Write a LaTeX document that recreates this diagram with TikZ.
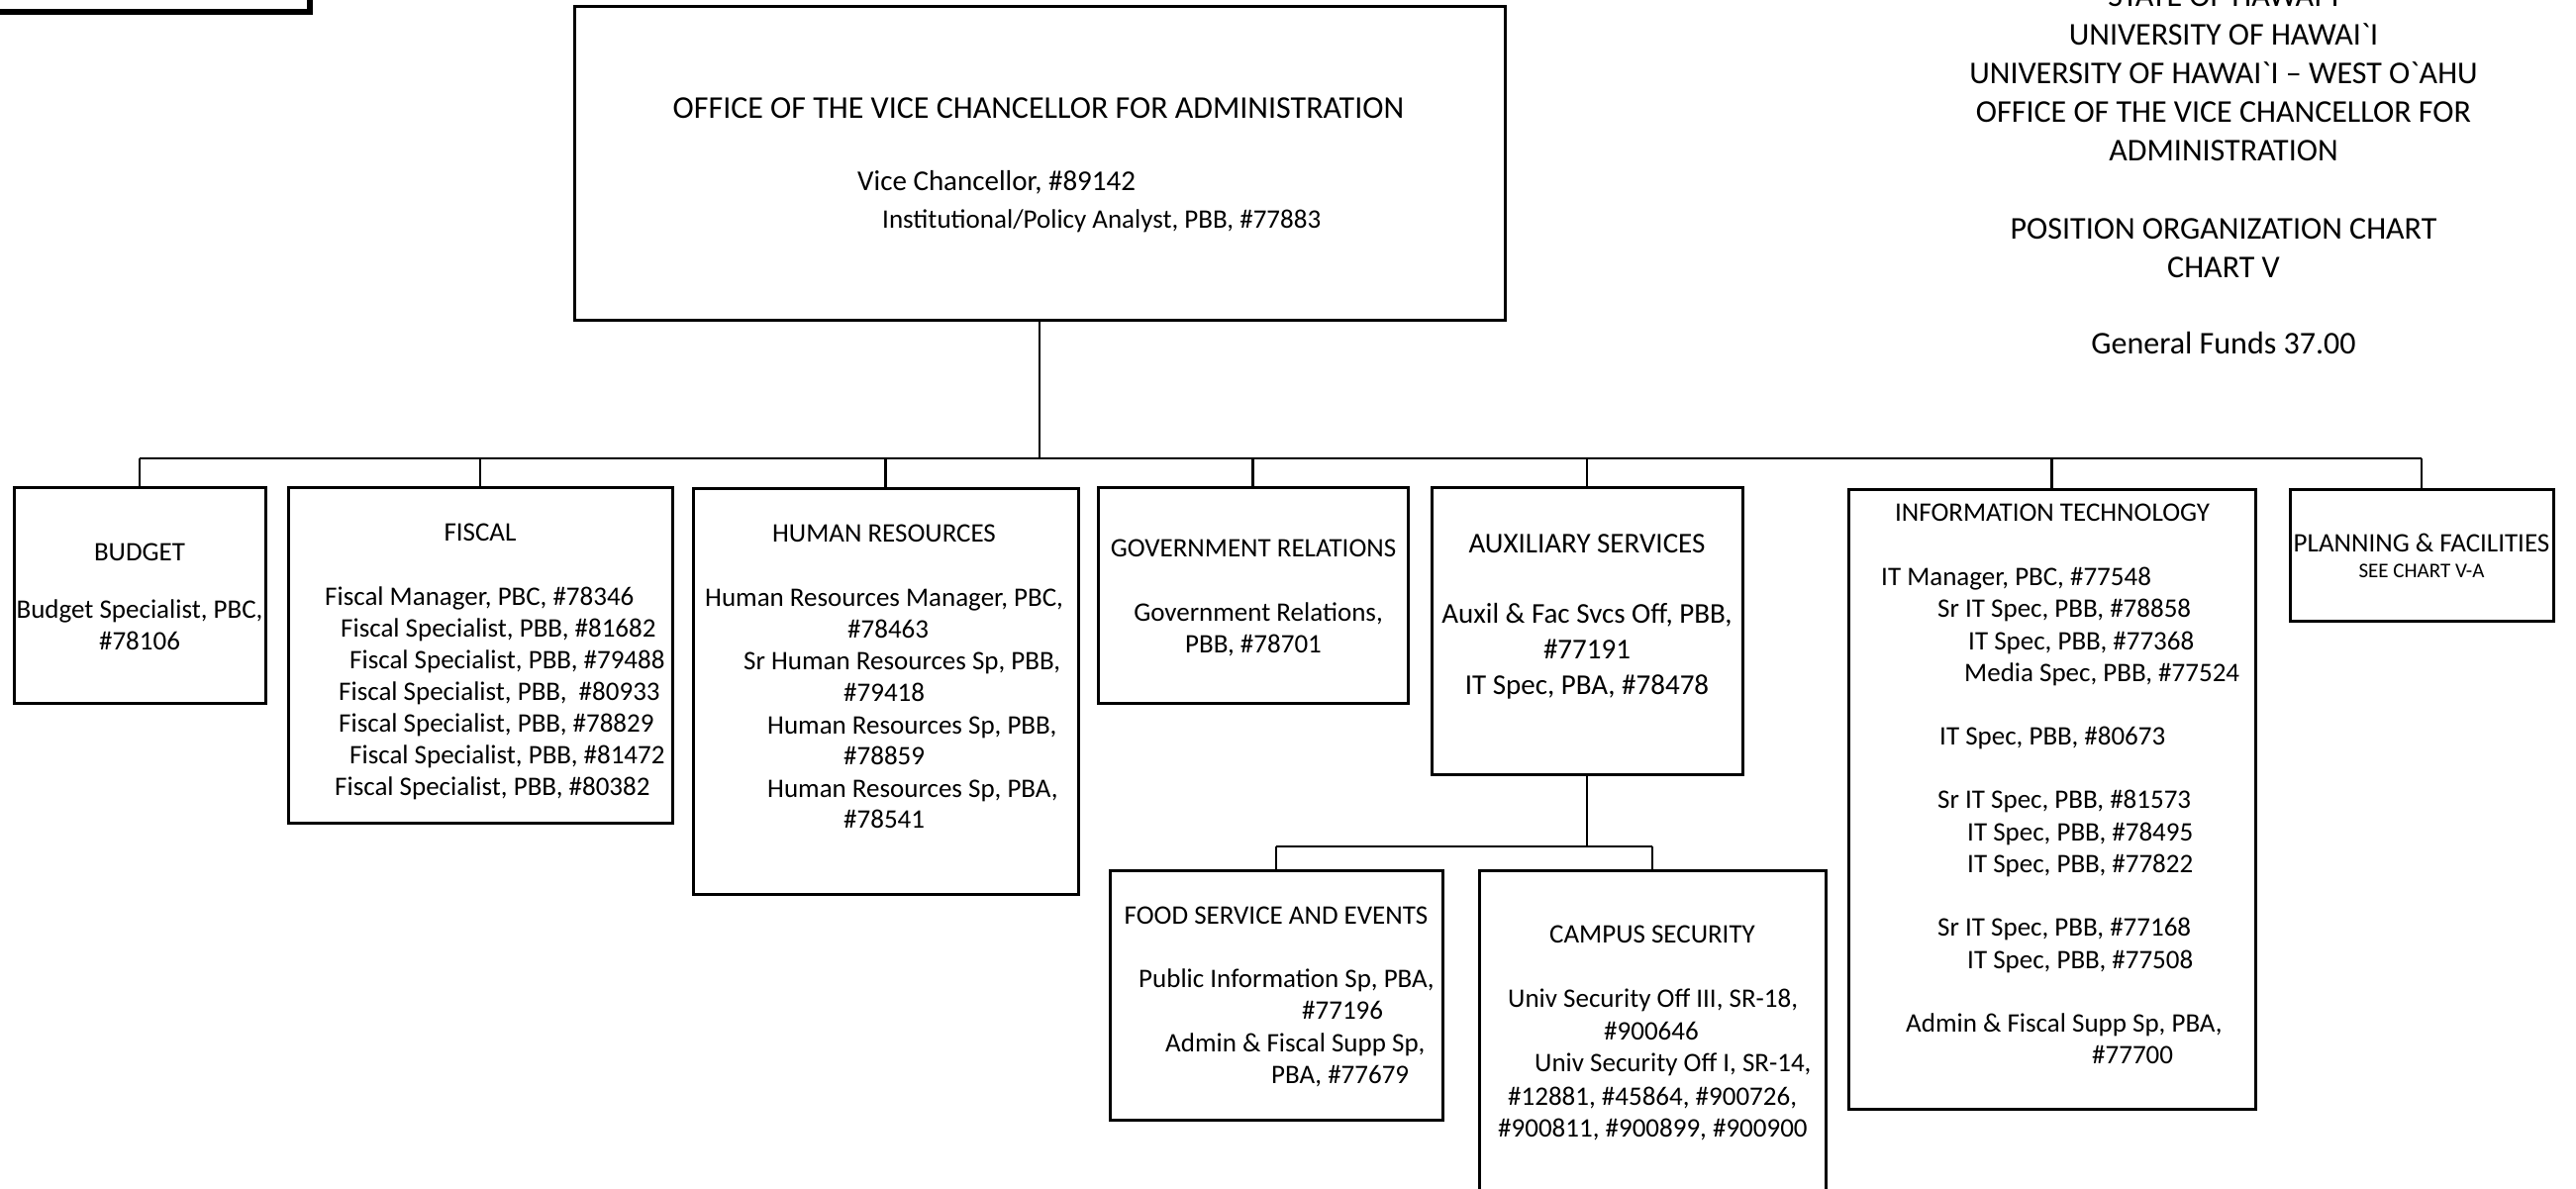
\documentclass[tikz,border=0pt]{standalone}
\usepackage{fontspec}
\newfontfamily\calfont{Carlito}
\newcommand\tline[5][base west]{\node[txt,anchor=#1] (#2) at (#3,#4) {#5};}
\begin{document}
\begin{tikzpicture}[x=1pt,y=-1pt,
  box/.style={draw, line width=3pt, inner sep=0pt},
  conn/.style={line width=2.6pt},
  txt/.style={inner sep=0pt, font=\calfont\fontsize{27}{32.3}\selectfont},
  big/.style={font=\calfont\fontsize{32}{39}\selectfont},
  mid/.style={font=\calfont\fontsize{29}{36}\selectfont},
  small/.style={font=\calfont\fontsize{21}{25}\selectfont}]
\useasboundingbox (0,0) rectangle (2602,1201);
\clip (0,0) rectangle (2602,1201);
\fill[white] (0,0) rectangle (2602,1201);

% partial box top left
\node[box, line width=6pt, minimum width=325pt, minimum height=105pt] (tl) at (150,-40) {};

% boxes
\node[box, minimum width=940pt, minimum height=316pt] (main) at (1050,165) {};
\node[box, minimum width=254pt, minimum height=218pt] (budget) at (141,601) {};
\node[box, minimum width=388pt, minimum height=339pt] (fiscal) at (485,661.5) {};
\node[box, minimum width=389pt, minimum height=410pt] (hr) at (894.5,698) {};
\node[box, minimum width=313pt, minimum height=218pt] (gov) at (1265.5,601) {};
\node[box, minimum width=314pt, minimum height=290pt] (aux) at (1603,637) {};
\node[box, minimum width=411pt, minimum height=626pt] (it) at (2072.5,807) {};
\node[box, minimum width=266pt, minimum height=133pt] (plan) at (2446,560.5) {};
\node[box, minimum width=336pt, minimum height=252pt] (food) at (1289,1005) {};
\node[box, minimum width=350pt, minimum height=401pt] (campus) at (1669,1079.5) {};

% connectors
\coordinate (bus) at (1050,463);
\coordinate (subbus) at (1603,855);
\draw[conn] (main.south) -- (bus);
\draw[conn] (budget.north |- bus) -- (plan.north |- bus);
\foreach \b in {budget,fiscal,hr,gov,aux,it,plan}
  \draw[conn] (\b.north |- bus) -- (\b.north);
\draw[conn] (aux.south) -- (subbus);
\draw[conn] (food.north |- subbus) -- (campus.north |- subbus);
\draw[conn] (food.north |- subbus) -- (food.north);
\draw[conn] (campus.north |- subbus) -- (campus.north);

% main box text
\node[txt,big,anchor=base] (mtitle) at (1049,120) {OFFICE OF THE VICE CHANCELLOR FOR ADMINISTRATION};
\node[txt,mid,anchor=base west] (vc) at (866,193) {Vice Chancellor, \#89142};
\tline{ipa}{891}{230}{Institutional/Policy Analyst, PBB, \#77883}

% budget
\tline[base]{budt}{141}{566}{BUDGET}
\tline[base]{bud1}{141}{624}{Budget Specialist, PBC,}
\tline[base]{bud2}{141}{656}{\#78106}

% fiscal
\tline[base]{fist}{485}{546}{FISCAL}
\tline{fis1}{328}{611}{Fiscal Manager, PBC, \#78346}
\tline{fis2}{344}{643}{Fiscal Specialist, PBB, \#81682}
\tline{fis3}{353}{675}{Fiscal Specialist, PBB, \#79488}
\tline{fis4}{342}{707}{Fiscal Specialist, PBB,\ \ \#80933}
\tline{fis5}{342}{739}{Fiscal Specialist, PBB, \#78829}
\tline{fis6}{353}{771}{Fiscal Specialist, PBB, \#81472}
\tline{fis7}{338}{803}{Fiscal Specialist, PBB, \#80382}

% human resources
\tline[base]{hrt}{893}{547}{HUMAN RESOURCES}
\tline{hr1}{712}{612}{Human Resources Manager, PBC,}
\tline{hr2}{856}{644}{\#78463}
\tline{hr3}{751}{676}{Sr Human Resources Sp, PBB,}
\tline{hr4}{852}{708}{\#79418}
\tline{hr5}{775}{741}{Human Resources Sp, PBB,}
\tline{hr6}{852}{772}{\#78859}
\tline{hr7}{775}{805}{Human Resources Sp, PBA,}
\tline{hr8}{852}{836}{\#78541}

% government relations
\tline[base]{govt}{1266}{562}{GOVERNMENT RELATIONS}
\tline[base]{gov1}{1271}{627}{Government Relations,}
\tline[base]{gov2}{1266}{659}{PBB, \#78701}

% auxiliary services
\node[txt,mid,anchor=base] (auxt) at (1603,558) {AUXILIARY SERVICES};
\node[txt,mid,anchor=base] (aux1) at (1603,629) {Auxil \& Fac Svcs Off, PBB,};
\node[txt,mid,anchor=base] (aux2) at (1603,665) {\#77191};
\node[txt,mid,anchor=base] (aux3) at (1603,701) {IT Spec, PBA, \#78478};

% information technology
\tline[base]{itt}{2073}{526}{INFORMATION TECHNOLOGY}
\tline{it1}{1900}{591}{IT Manager, PBC, \#77548}
\tline{it2}{1957}{623}{Sr IT Spec, PBB, \#78858}
\tline{it3}{1988}{656}{IT Spec, PBB, \#77368}
\tline{it4}{1984}{688}{Media Spec, PBB, \#77524}
\tline{it5}{1959}{752}{IT Spec, PBB, \#80673}
\tline{it6}{1957}{816}{Sr IT Spec, PBB, \#81573}
\tline{it7}{1987}{849}{IT Spec, PBB, \#78495}
\tline{it8}{1987}{881}{IT Spec, PBB, \#77822}
\tline{it9}{1957}{945}{Sr IT Spec, PBB, \#77168}
\tline{it10}{1987}{978}{IT Spec, PBB, \#77508}
\tline{it11}{1925}{1042}{Admin \& Fiscal Supp Sp, PBA,}
\tline{it12}{2113}{1074}{\#77700}

% planning
\tline[base]{plant}{2446}{557}{PLANNING \& FACILITIES}
\node[txt,small,anchor=base] (plan1) at (2446,583) {SEE CHART V-A};

% food service
\tline[base]{foodt}{1289}{933}{FOOD SERVICE AND EVENTS}
\tline{food1}{1150}{997}{Public Information Sp, PBA,}
\tline{food2}{1315}{1029}{\#77196}
\tline{food3}{1177}{1062}{Admin \& Fiscal Supp Sp,}
\tline{food4}{1284}{1094}{PBA, \#77679}

% campus security
\tline[base]{camt}{1669}{952}{CAMPUS SECURITY}
\tline{cam1}{1523}{1017}{Univ Security Off III, SR-18,}
\tline{cam2}{1620}{1050}{\#900646}
\tline{cam3}{1550}{1082}{Univ Security Off I, SR-14,}
\tline{cam4}{1523}{1116}{\#12881, \#45864, \#900726,}
\tline{cam5}{1513}{1148}{\#900811, \#900899, \#900900}

% header
\node[txt,big,anchor=base] (h1) at (2246,7) {STATE OF HAWAI`I};
\node[txt,big,anchor=base] (h2) at (2246,46) {UNIVERSITY OF HAWAI`I};
\node[txt,big,anchor=base] (h3) at (2246,85) {UNIVERSITY OF HAWAI`I – WEST O`AHU};
\node[txt,big,anchor=base] (h4) at (2246,124) {OFFICE OF THE VICE CHANCELLOR FOR};
\node[txt,big,anchor=base] (h5) at (2246,163) {ADMINISTRATION};
\node[txt,big,anchor=base] (h6) at (2246,241) {POSITION ORGANIZATION CHART};
\node[txt,big,anchor=base] (h7) at (2246,280) {CHART V};
\node[txt,big,anchor=base] (h8) at (2246,357) {General Funds 37.00};
\end{tikzpicture}
\end{document}
